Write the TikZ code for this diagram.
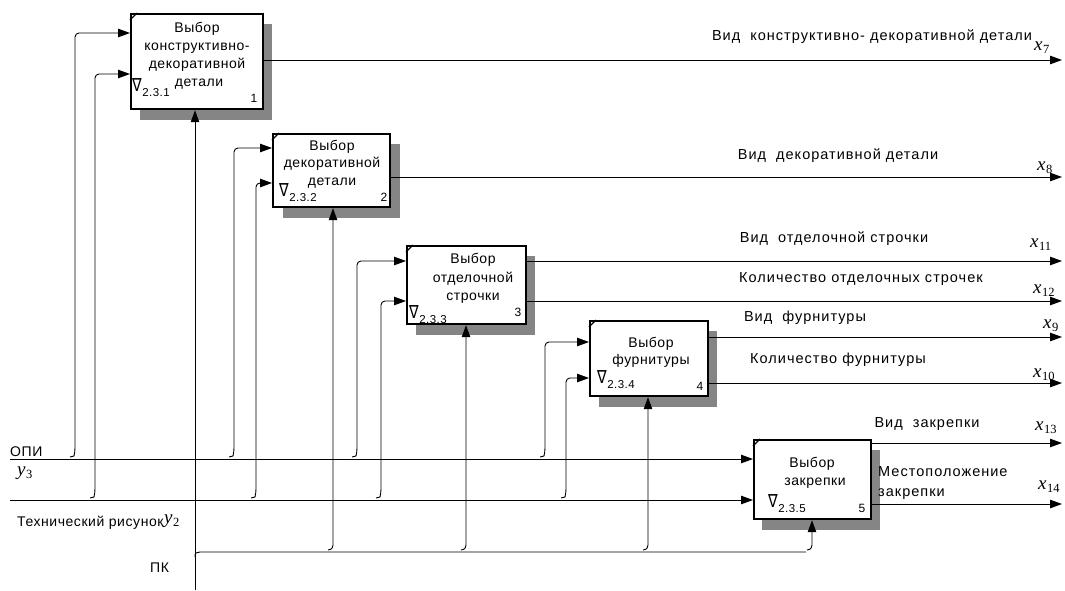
\documentclass[tikz,border=0pt]{standalone}
\usepackage{fontspec}
\setmainfont{Liberation Sans}[LetterSpace=4]
\newfontfamily\widefont{Liberation Sans}[LetterSpace=7]
\newfontfamily\mserif{Liberation Serif}
\newfontfamily\symfont{DejaVu Sans}
\usetikzlibrary{arrows.meta}
\tikzset{
  conn/.style={line width=0.9pt},
  arr/.style={conn,-{Triangle[length=12pt,width=8.5pt]}},
  boxst/.style={draw, line width=2.2pt, fill=white, inner sep=0pt, anchor=north west},
  shad/.style={fill=black!48},
  lbl/.style={font=\fontsize{14}{17}\selectfont, inner sep=0pt},
  olbl/.style={font=\fontsize{14.5}{17}\selectfont\widefont, inner sep=0pt},
  blbl/.style={lbl, anchor=base},
  mlbl/.style={inner sep=0pt, anchor=base west},
  nlbl/.style={font=\fontsize{12}{12}\selectfont, inner sep=0pt},
  nab/.style={inner sep=0pt, anchor=base west},
}
\newcommand\subnum[1]{\scalebox{0.8}[1]{\fontsize{18}{18}\selectfont\symfont ∇}\kern0.5pt\raisebox{-5pt}{\fontsize{11.5}{11.5}\selectfont #1}}
\newcommand\mvar[2]{{\fontsize{19}{19}\selectfont\mserif\itshape #1}\kern0.5pt\raisebox{-3.5pt}{\fontsize{12.5}{12.5}\selectfont\mserif #2}}
\begin{document}
\begin{tikzpicture}[x=1pt,y=-1pt]
\useasboundingbox (0,0) rectangle (1065,590);
% shadows
\fill[shad] (140,24) rectangle (272,120);
\fill[shad] (283,144) rectangle (400,218);
\fill[shad] (416,256) rectangle (535,335);
\fill[shad] (599,331) rectangle (717,407);
\fill[shad] (762,450) rectangle (880,530);
% boxes
\node[boxst, minimum width=132pt, minimum height=95pt] (b1) at (130,13) {};
\node[boxst, minimum width=117pt, minimum height=73pt] (b2) at (272,133) {};
\node[boxst, minimum width=119pt, minimum height=78pt] (b3) at (406,245) {};
\node[boxst, minimum width=118pt, minimum height=75pt] (b4) at (589,320) {};
\node[boxst, minimum width=117pt, minimum height=79pt] (b5) at (753,439) {};
% corner ticks
\foreach \b in {b1,b2,b3,b4,b5}{
  \draw[line width=1.1pt] ([yshift=-7pt]\b.north west) -- ([xshift=7pt]\b.north west);
}
% main lines
\coordinate (opi) at (10,459);
\coordinate (tex) at (10,500);
\draw[arr] (opi) -- (b5.west |- opi);
\draw[arr] (tex) -- (b5.west |- tex);
% inputs
\foreach \x/\ly/\ty/\b in {75/459/33/b1, 95/500/74/b1, 234/459/148/b2, 256/500/183/b2,
  357/459/261/b3, 381/500/301/b3, 545/459/342/b4, 566/500/378/b4}{
  \draw[arr, rounded corners=4pt] (\x-5,\ly-2) .. controls (\x-1,\ly-3) .. (\x,\ly-7) -- (\x,\ty) -- (\b.west |- 0,\ty);
}
% controls
\coordinate (pk) at (195,590);
\draw[arr] (pk) -- (195,0 |- b1.south);
\draw[conn] (195,557) .. controls (195,553) .. (200,552) -- (806,552);
\foreach \x/\b in {333/b2, 466/b3, 648/b4, 812/b5}{
  \draw[arr] (\x-5,550) .. controls (\x-1,549) .. (\x,545) -- (\x,0 |- \b.south);
}
% outputs
\foreach \b/\y in {b1/60, b2/177, b3/261, b3/301, b4/337, b4/383, b5/443, b5/504}{
  \draw[arr] (\b.east |- 0,\y) -- (1062,\y);
}
% box texts
\node[blbl] (t1a) at (197,32) {Выбор};
\node[blbl] (t1b) at (197,50) {конструктивно-};
\node[blbl] (t1c) at (197,68) {декоративной};
\node[blbl] (t1d) at (199,86) {детали};
\node[blbl] (t2a) at (332,150) {Выбор};
\node[blbl] (t2b) at (332,167) {декоративной};
\node[blbl] (t2c) at (332,185) {детали};
\node[blbl] (t3a) at (473,263) {Выбор};
\node[blbl] (t3b) at (473,282) {отделочной};
\node[blbl] (t3c) at (473,300) {строчки};
\node[blbl] (t4a) at (651,347) {Выбор};
\node[blbl] (t4b) at (651,364) {фурнитуры};
\node[blbl] (t5a) at (812,467) {Выбор};
\node[blbl] (t5b) at (815,485) {закрепки};
% nabla labels
\node[nab] (n1) at (132,91) {\subnum{2.3.1}};
\node[nab] (n2) at (279,196) {\subnum{2.3.2}};
\node[nab] (n3) at (409,318) {\subnum{2.3.3}};
\node[nab] (n4) at (597,383) {\subnum{2.3.4}};
\node[nab] (n5) at (768,507) {\subnum{2.3.5}};
% numbers
\node[nlbl] (k1) at (254,98) {1};
\node[nlbl] (k2) at (384,197) {2};
\node[nlbl] (k3) at (518,312) {3};
\node[nlbl] (k4) at (700,386) {4};
\node[nlbl] (k5) at (862,508) {5};
% output labels
\node[olbl] (o1) at (872,37) {Вид\ \ конструктивно- декоративной детали};
\node[olbl] (o2) at (838,156) {Вид\ \ декоративной детали};
\node[olbl] (o3) at (834,239) {Вид\ \ отделочной строчки};
\node[olbl] (o4) at (861,279) {Количество отделочных строчек};
\node[olbl] (o5) at (805,318) {Вид\ \ фурнитуры};
\node[olbl] (o6) at (838,360) {Количество фурнитуры};
\node[olbl] (o7) at (927,424) {Вид\ \ закрепки};
\node[olbl, anchor=base west] (o8) at (878,476) {Местоположение};
\node[olbl, anchor=base west] (o9) at (878,496) {закрепки};
\node[mlbl] (x7) at (1034,50) {\mvar{x}{7}};
\node[mlbl] (x8) at (1037,170) {\mvar{x}{8}};
\node[mlbl] (x11) at (1030,247) {\mvar{x}{11}};
\node[mlbl] (x12) at (1033,293) {\mvar{x}{12}};
\node[mlbl] (x9) at (1043,328) {\mvar{x}{9}};
\node[mlbl] (x10) at (1033,377) {\mvar{x}{10}};
\node[mlbl] (x13) at (1035,430) {\mvar{x}{13}};
\node[mlbl] (x14) at (1038,489) {\mvar{x}{14}};
% left labels
\node[lbl, anchor=base west] (l1) at (10,456) {ОПИ};
\node[mlbl] (y3) at (17,475) {\mvar{y}{3}};
\node[lbl, anchor=base west] (l2) at (17,526) {Технический рисунок};
\node[mlbl] (y2) at (164,523) {\mvar{y}{2}};
\node[lbl, anchor=base west] (l3) at (150,572) {ПК};
\end{tikzpicture}
\end{document}
